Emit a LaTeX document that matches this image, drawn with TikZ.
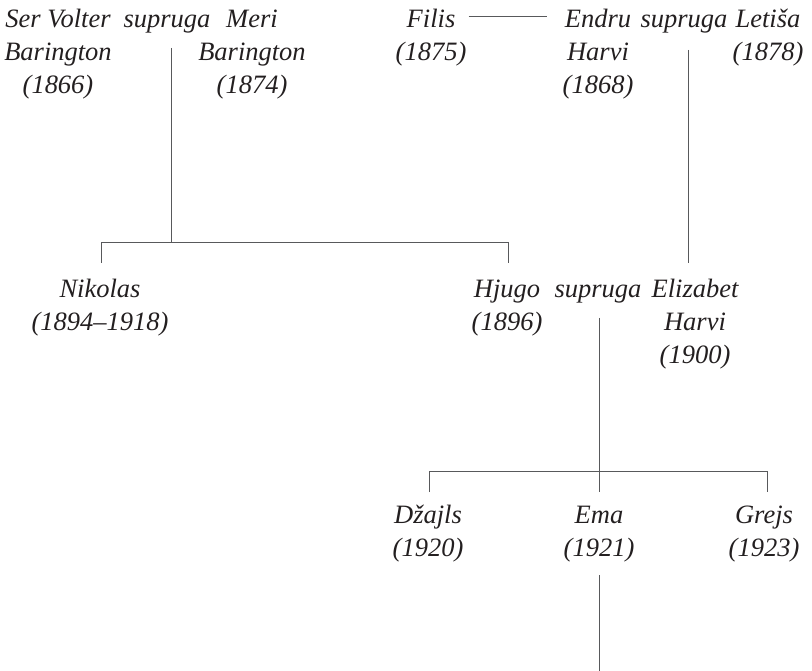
\documentclass[tikz,border=0pt]{standalone}
\usepackage{fontspec}
\usetikzlibrary{calc}
\setmainfont{Liberation Serif}
\definecolor{txt}{HTML}{231F20}
\definecolor{ln}{HTML}{58595B}
\newcommand\famfont{\fontsize{26.5}{33}\selectfont\itshape}
\newcommand\ls{\strut}
\tikzset{
  person/.style={align=center, inner sep=0pt, anchor=north, font=\famfont, text=txt, yshift=23.1pt},
  tie/.style={draw=ln, line width=0.9pt},
}
\begin{document}
\begin{tikzpicture}[x=1pt,y=-1pt]
\useasboundingbox (0,0) rectangle (812,671);
% generation 1
\node[person] (volter) at (58,27) {Ser Volter\ls\\Barington\ls\\(1866)\ls};
\node[person] (sup1) at (167,27) {supruga\ls};
\node[person] (meri) at (252,27) {Meri\ls\\Barington\ls\\(1874)\ls};
\node[person] (filis) at (431,27) {Filis\ls\\(1875)\ls};
\node[person] (endru) at (598,27) {Endru\ls\\Harvi\ls\\(1868)\ls};
\node[person] (sup2) at (684,27) {supruga\ls};
\node[person] (letisa) at (768,27) {Letiša\ls\\(1878)\ls};
% generation 2
\node[person] (nikolas) at (100,297) {Nikolas\ls\\(1894–1918)\ls};
\node[person] (hjugo) at (507,297) {Hjugo\ls\\(1896)\ls};
\node[person] (sup3) at (598,297) {supruga\ls};
\node[person] (eliz) at (695,297) {Elizabet\ls\\Harvi\ls\\(1900)\ls};
% generation 3
\node[person] (dzajls) at (428,523) {Džajls\ls\\(1920)\ls};
\node[person] (ema) at (599,523) {Ema\ls\\(1921)\ls};
\node[person] (grejs) at (764,523) {Grejs\ls\\(1923)\ls};
% junction coordinates
\coordinate (fl) at (0,16);
\coordinate (m1) at (171,48);
\coordinate (b1) at (171,242.5);
\coordinate (b1l) at (101,263);
\coordinate (b1r) at (508,263);
\coordinate (m2) at (688,50);
\coordinate (b2) at (688,263);
\coordinate (m3) at (599,318);
\coordinate (b3) at (599,492);
\coordinate (b3l) at (429,492);
\coordinate (b3r) at (767,492);
\coordinate (y3) at (0,471.7);
\coordinate (m4) at (599,575);
\coordinate (b4) at (599,671);
% connectors
\draw[tie] ($(filis.east |- fl)+(2,0)$) -- ($(endru.west |- fl)+(-15,0)$);
\draw[tie] (m1) -- (b1);
\draw[tie] (b1l) -- (b1l |- b1) -- (b1r |- b1) -- (b1r);
\draw[tie] (m2) -- (b2);
\draw[tie] (m3) -- (b3);
\draw[tie] (b3l) -- (b3l |- y3) -- (b3r |- y3) -- (b3r);
\draw[tie] (m4) -- (b4);
\end{tikzpicture}
\end{document}
